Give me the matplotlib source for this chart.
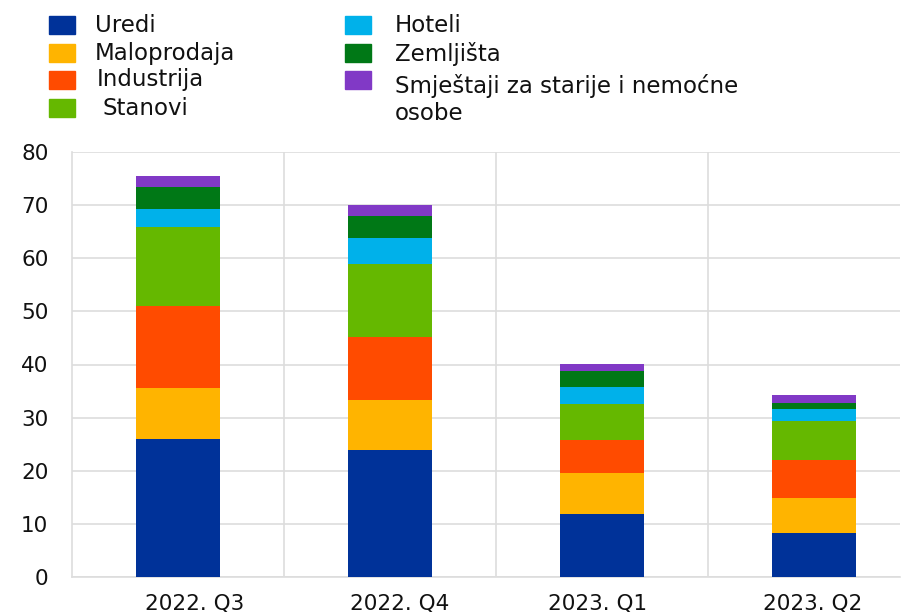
import matplotlib
matplotlib.use("Agg")
import matplotlib.pyplot as plt
import matplotlib.transforms as mtransforms
import numpy as np
from matplotlib.patches import Rectangle

# ---------------------------------------------------------------------------
# Data
# ---------------------------------------------------------------------------
quarters = ["2022. Q3", "2022. Q4", "2023. Q1", "2023. Q2"]

uredi = [25.9, 24.0, 11.9, 8.3]
maloprodaja = [9.6, 9.3, 7.6, 6.5]
industrija = [15.5, 11.8, 6.2, 7.3]
stanovi = [14.8, 13.8, 6.9, 7.2]
hoteli = [3.4, 4.9, 3.2, 2.3]
zemljista = [4.2, 4.2, 3.0, 1.2]
smjestaji = [2.0, 2.0, 1.3, 1.5]

series_names = ["Uredi", "Maloprodaja", "Industrija", "Stanovi",
                "Hoteli", "Zemljišta", "Smještaji za starije i nemoćne\nosobe"]
series_values = [uredi, maloprodaja, industrija, stanovi,
                 hoteli, zemljista, smjestaji]
colors = ["#003299", "#FFB400", "#FF4B00", "#65B800",
          "#00B1EA", "#007816", "#8139C6"]

yticks = [0, 10, 20, 30, 40, 50, 60, 70, 80]

# ---------------------------------------------------------------------------
# Plot
# ---------------------------------------------------------------------------
plt.rcParams["font.family"] = ["DejaVu Sans"]

W, H = 901, 612
fig = plt.figure(figsize=(W / 100, H / 100), dpi=100)
# axes in pixel coords: left 72, right 900, bottom 577, top 152
ax = fig.add_axes([72 / W, (H - 577) / H, (900 - 72) / W, (577 - 152) / H])

x = np.arange(len(quarters))
bottom = np.zeros(len(quarters))
for vals, col in zip(series_values, colors):
    ax.bar(x, vals, width=0.4, bottom=bottom, color=col, zorder=3,
           edgecolor="none")
    bottom += np.array(vals)

ax.set_xlim(-0.5, -0.5 + (900 - 72) / 212)
ax.set_ylim(0, 80)
ax.set_yticks(yticks)
ax.set_xticks(x)
ax.set_xticklabels(quarters)
ax.set_xticks(x[:-1] + 0.5, minor=True)

grid_col = "#DDDDDD"
ax.grid(axis="y", which="major", color=grid_col, linewidth=1.2, zorder=0)
ax.grid(axis="x", which="minor", color=grid_col, linewidth=1.2, zorder=0)
ax.grid(axis="x", which="major", visible=False)

for side in ["top", "right"]:
    ax.spines[side].set_visible(False)
for side in ["left", "bottom"]:
    ax.spines[side].set_color(grid_col)
    ax.spines[side].set_linewidth(1.2)

ax.tick_params(axis="both", which="both", length=0, labelsize=15.5,
               colors="#111111")
ax.tick_params(axis="y", pad=17)
ax.tick_params(axis="x", pad=12)

# the category labels sit slightly off-centre in the reference
for lbl, dx in zip(ax.get_xticklabels(), [17, 10, -4, -1]):
    lbl.set_transform(lbl.get_transform() + mtransforms.ScaledTranslation(
        dx / 100, 0, fig.dpi_scale_trans))

# Legend drawn by hand (two columns, irregular spacing as in the reference)
legend_pos = [  # (patch_x, patch_center_y, text_x, text_baseline_y)
    (49, 25, 95, 32),
    (49, 53, 95, 60),
    (49, 80, 97, 86),
    (49, 108, 102, 115),
    (345, 25, 395, 32),
    (345, 53, 395, 61),
    (345, 80, 395, 93),
]
for name, col, (px, py, tx, ty) in zip(series_names, colors, legend_pos):
    fig.add_artist(Rectangle((px / W, (H - py - 9) / H), 26 / W, 18 / H,
                             transform=fig.transFigure, color=col))
    for k, line in enumerate(name.split("\n")):
        fig.text(tx / W, (H - ty - 27 * k) / H, line, fontsize=16.5,
                 va="baseline", ha="left", color="#111111")

fig.savefig("out.png", dpi=100)
